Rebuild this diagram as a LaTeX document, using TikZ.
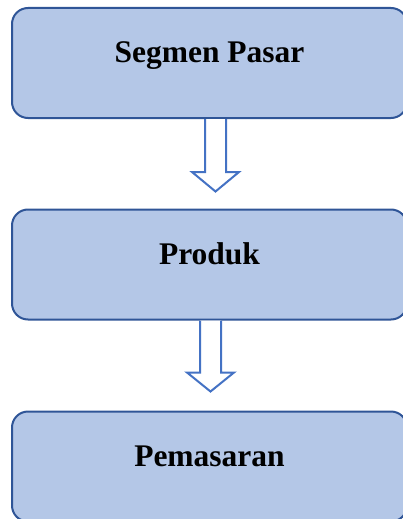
\documentclass[tikz,border=0pt]{standalone}
\usepackage{fontspec}
\setmainfont{Liberation Serif}
\usetikzlibrary{calc}
\definecolor{boxfill}{HTML}{B4C7E7}
\definecolor{boxline}{HTML}{2F5597}
\definecolor{arrowline}{HTML}{4472C4}
\begin{document}
\begin{tikzpicture}[x=1pt,y=-1pt,
    stage/.style={draw=boxline, line width=2pt, fill=boxfill, rounded corners=16pt,
        minimum width=395pt, minimum height=110pt, inner sep=0pt,
        font=\fontsize{31.5}{36}\selectfont\bfseries, text height=20pt, text depth=20pt},
    hollowarrow/.style={draw=arrowline, line width=2pt, fill=white, line join=miter}]
    \useasboundingbox (0,0) rectangle (402,519);
    % stages
    \node[stage] (segmen) at (209.5,63) {Segmen Pasar};
    \node[stage] (produk) at (209.5,264.5) {Produk};
    \node[stage] (pemasaran) at (209.5,466.5) {Pemasaran};

    % hollow arrows between stages
    \draw[hollowarrow] ($(segmen.south)+(-4.5,0)$) -- ++(0,53) -- ++(-13,0)
        -- ($(produk.north)+(6,-17)$) -- ($(segmen.south)+(29.5,53)$)
        -- ++(-13,0) -- ($(segmen.south)+(16.5,0)$);
    \draw[hollowarrow] ($(produk.south)+(-9.5,0)$) -- ++(0,52) -- ++(-13,0)
        -- ($(pemasaran.north)+(1,-19)$) -- ($(produk.south)+(24.5,52)$)
        -- ++(-13,0) -- ($(produk.south)+(11.5,0)$);
\end{tikzpicture}
\end{document}
